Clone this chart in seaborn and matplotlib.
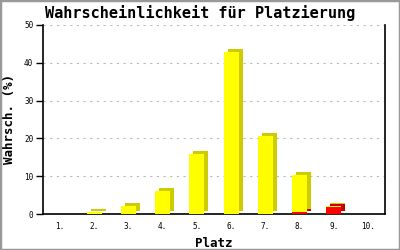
import matplotlib
matplotlib.use("Agg")
import matplotlib.pyplot as plt
import matplotlib.transforms as mtransforms
from matplotlib.patches import Rectangle
import seaborn as sns
import pandas as pd

places = ["1.", "2.", "3.", "4.", "5.", "6.", "7.", "8.", "9.", "10."]
yellow_vals = [0.0, 0.5, 2.0, 6.2, 16.0, 42.8, 20.7, 9.8, 0.2, 0.0]
red_vals = [0.0, 0.0, 0.0, 0.0, 0.0, 0.0, 0.0, 0.6, 1.9, 0.1]
yticks = [0, 10, 20, 30, 40, 50]

totals = [y + r for y, r in zip(yellow_vals, red_vals)]
df = pd.DataFrame({"Platz": places, "total": totals, "red": red_vals})

sns.set_style("white")
plt.rcParams["font.family"] = ["DejaVu Sans Mono", "DejaVu Sans"]
for k in ["text.color", "axes.labelcolor", "xtick.color", "ytick.color"]:
    plt.rcParams[k] = "black"

fig = plt.figure(figsize=(4, 2.5), dpi=100)
ax = fig.add_axes([43 / 400, 36 / 250, 342 / 400, 189 / 250])

W = 0.44
# shadows (3D depth)
sns.barplot(data=df, x="Platz", y="total", color="#cccc00", width=W, ax=ax,
            saturation=1, zorder=2)
sns.barplot(data=df, x="Platz", y="red", color="#cc0000", width=W, ax=ax,
            saturation=1, zorder=2)
shadow_patches = list(ax.patches)
off = mtransforms.offset_copy(ax.transData, fig=fig, x=4, y=3, units="dots")
for p in shadow_patches:
    p.set_transform(off)
    p.set_linewidth(0)
    p.set_zorder(2)
# front faces
sns.barplot(data=df, x="Platz", y="total", color="#ffff00", width=W, ax=ax,
            saturation=1, zorder=3)
sns.barplot(data=df, x="Platz", y="red", color="#ff0000", width=W, ax=ax,
            saturation=1, zorder=3)
for p in ax.patches[len(shadow_patches):]:
    p.set_linewidth(0)
    p.set_zorder(3)

ax.set_xlim(-0.5, 9.5)
ax.set_ylim(0, 50)
ax.set_yticks(yticks)
ax.set_yticklabels([str(t) for t in yticks], fontsize=5.5)
ax.tick_params(axis="y", length=5, width=1, color="black", pad=2, direction="out", left=True)
ax.tick_params(axis="x", length=0, pad=6, labelsize=5.5)
for t in yticks[1:]:
    ax.axhline(t, color="#bbbbbb", lw=0.8, ls=(0, (2, 4)), zorder=1)

for s in ["left", "right", "bottom"]:
    ax.spines[s].set_visible(True)
    ax.spines[s].set_color("black")
    ax.spines[s].set_linewidth(1.2)
ax.spines["top"].set_visible(False)

ax.set_xlabel("Platz", fontsize=9, fontweight="bold", labelpad=4)
ax.set_ylabel("Wahrsch. (%)", fontsize=9, fontweight="bold", labelpad=6)
fig.text(0.5, 1 - 13 / 250, "Wahrscheinlichkeit für Platzierung", ha="center", va="center",
         fontsize=11, fontweight="bold")

fig.patches.append(Rectangle((0, 0), 1, 1, transform=fig.transFigure, fill=False,
                             edgecolor="#999999", lw=2.5))
fig.savefig("out.png", dpi=100, facecolor="white")
